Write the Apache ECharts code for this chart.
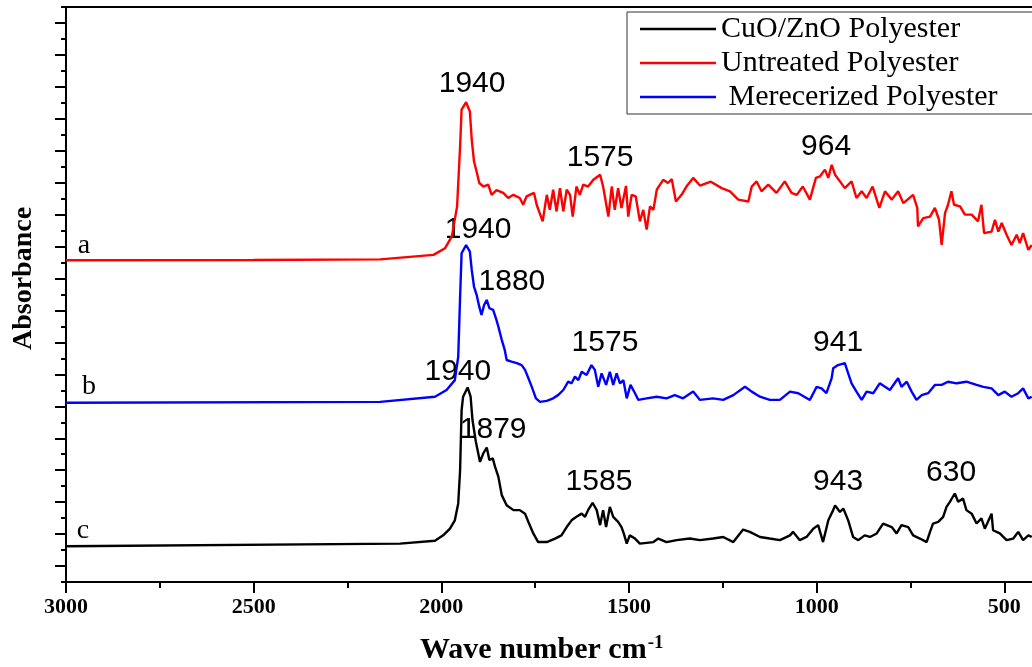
<!DOCTYPE html>
<html>
<head>
<meta charset="utf-8">
<script src="https://cdn.jsdelivr.net/npm/echarts@6/dist/echarts.min.js"></script>
<style>
html, body { margin: 0; padding: 0; background: #fff; }
#chart { width: 1032px; height: 667px; }
</style>
</head>
<body>
<div id="chart"></div>
<script>
// spectrum a - untreated polyester (wave number, absorbance)
var redWn = [3000, 2500, 2163, 2021, 1990, 1972, 1958, 1950, 1946, 1934, 1924, 1919, 1913, 1904, 1899, 1888, 1875, 1866, 1853, 1835,
  1822, 1808, 1791, 1782, 1773, 1753, 1746, 1730, 1719, 1711, 1702, 1693, 1684, 1675, 1666, 1657, 1650, 1640, 1631, 1622,
  1609, 1595, 1577, 1569, 1555, 1546, 1538, 1529, 1520, 1508, 1502, 1493, 1482, 1471, 1462, 1453, 1444, 1435, 1426, 1409,
  1396, 1386, 1375, 1360, 1347, 1329, 1311, 1282, 1253, 1231, 1209, 1182, 1173, 1160, 1147, 1129, 1107, 1085, 1067, 1053,
  1037, 1018, 1002, 991, 978, 969, 960, 951, 938, 925, 907, 894, 880, 867, 851, 833, 818, 800, 783, 769,
  743, 732, 730, 716, 698, 685, 674, 667, 658, 650, 641, 634, 618, 605, 587, 570, 561, 554, 534, 525,
  516, 507, 494, 481, 467, 459, 450, 436, 427]
var redAbs = [10.07, 10.08, 10.1, 10.24, 10.45, 10.82, 11.76, 13.64, 14.79, 15.02, 14.73, 13.85, 13.17, 12.75, 12.49, 12.38, 12.44, 12.12, 12.27, 12.18,
  12.02, 12.12, 12.02, 11.81, 12.07, 12.18, 11.81, 11.29, 12.12, 11.65, 12.28, 11.6, 12.33, 11.6, 12.28, 12.12, 11.44, 12.38, 12.12, 12.44,
  12.38, 12.59, 12.75, 12.38, 11.44, 12.38, 11.65, 12.33, 11.71, 12.4, 11.44, 12.12, 12.07, 11.29, 11.65, 11.03, 11.76, 11.65, 12.28, 12.59,
  12.49, 12.61, 11.91, 12.12, 12.38, 12.65, 12.41, 12.53, 12.33, 12.23, 11.97, 11.91, 12.38, 12.54, 12.23, 12.44, 12.18, 12.54, 12.18, 12.12,
  12.38, 11.97, 12.65, 12.7, 12.91, 12.65, 13.06, 12.75, 12.54, 12.33, 12.54, 12.02, 12.23, 12.02, 12.38, 11.71, 12.23, 11.97, 12.23, 11.86,
  12.12, 11.71, 11.13, 11.39, 11.44, 11.71, 11.34, 10.55, 11.55, 11.81, 12.23, 11.81, 11.76, 11.5, 11.5, 11.29, 11.81, 10.92, 10.97, 11.34,
  10.97, 11.24, 10.87, 10.55, 10.87, 10.61, 10.92, 10.4, 10.55]

// spectrum b - merecerized polyester
var blueWn = [3000, 2163, 2017, 1986, 1964, 1955, 1950, 1946, 1934, 1924, 1919, 1913, 1906, 1899, 1893, 1886, 1879, 1872, 1862, 1853,
  1848, 1839, 1831, 1826, 1813, 1799, 1786, 1777, 1768, 1759, 1748, 1737, 1719, 1702, 1689, 1675, 1662, 1653, 1644, 1635,
  1626, 1613, 1600, 1591, 1582, 1573, 1561, 1551, 1542, 1533, 1524, 1515, 1506, 1496, 1484, 1475, 1453, 1426, 1400, 1378,
  1356, 1329, 1311, 1276, 1249, 1222, 1191, 1173, 1151, 1125, 1098, 1071, 1049, 1018, 1000, 987, 974, 960, 956, 943,
  925, 916, 907, 894, 880, 867, 849, 832, 818, 805, 783, 774, 760, 747, 734, 720, 703, 685, 667, 650,
  627, 601, 574, 556, 534, 516, 499, 481, 463, 450, 436, 427]
var blueAbs = [5.61, 5.64, 5.8, 6.01, 6.32, 7.05, 8.93, 10.29, 10.55, 10.34, 9.77, 9.25, 8.99, 8.62, 8.36, 8.67, 8.83, 8.57, 8.52, 8.2,
  7.99, 7.58, 7.26, 6.95, 6.9, 6.85, 6.79, 6.64, 6.38, 6.11, 5.75, 5.64, 5.67, 5.75, 5.85, 6.01, 6.27, 6.22, 6.43, 6.32,
  6.58, 6.48, 6.79, 6.64, 6.11, 6.53, 6.17, 6.58, 6.17, 6.53, 6.22, 6.32, 5.75, 6.17, 5.91, 5.7, 5.75, 5.8, 5.75, 5.85,
  5.75, 5.96, 5.7, 5.75, 5.7, 5.85, 6.11, 5.96, 5.8, 5.7, 5.7, 5.96, 5.91, 5.7, 6.11, 6.06, 5.91, 6.38, 6.69, 6.79,
  6.85, 6.53, 6.22, 5.96, 5.7, 5.96, 5.91, 6.22, 6.11, 6.01, 6.38, 6.11, 6.27, 5.96, 5.7, 5.85, 5.91, 6.17, 6.17, 6.27,
  6.22, 6.27, 6.17, 6.11, 6.06, 5.85, 5.96, 5.8, 5.91, 6.06, 5.75, 5.8]

// spectrum c - CuO/ZnO polyester
var blackWn = [3000, 2110, 2017, 1995, 1977, 1964, 1955, 1950, 1946, 1942, 1930, 1922, 1917, 1908, 1897, 1888, 1879, 1872, 1863, 1857,
  1848, 1839, 1826, 1808, 1791, 1777, 1768, 1755, 1742, 1719, 1697, 1680, 1666, 1653, 1640, 1626, 1617, 1609, 1597, 1586,
  1577, 1569, 1561, 1551, 1542, 1529, 1520, 1514, 1506, 1498, 1484, 1471, 1435, 1422, 1400, 1373, 1338, 1311, 1276, 1249,
  1222, 1196, 1178, 1151, 1125, 1098, 1071, 1063, 1045, 1027, 1009, 996, 983, 969, 956, 951, 938, 929, 916, 903,
  889, 872, 858, 840, 823, 800, 787, 774, 756, 743, 725, 707, 698, 690, 676, 663, 654, 645, 632, 623,
  610, 601, 587, 574, 561, 552, 534, 530, 512, 494, 476, 463, 450, 436, 427]
var blackAbs = [1.12, 1.2, 1.29, 1.46, 1.67, 1.93, 2.46, 3.5, 5.38, 5.8, 6.09, 5.8, 5.07, 4.39, 3.76, 4.03, 4.21, 3.82, 3.87, 3.61,
  3.29, 2.72, 2.4, 2.25, 2.25, 2.14, 1.88, 1.52, 1.25, 1.25, 1.36, 1.46, 1.72, 1.93, 2.04, 2.14, 2.04, 2.25, 2.48, 2.25,
  1.78, 2.25, 1.72, 2.35, 2.04, 1.88, 1.72, 1.52, 1.2, 1.46, 1.36, 1.2, 1.25, 1.36, 1.25, 1.31, 1.36, 1.31, 1.36, 1.41,
  1.25, 1.64, 1.57, 1.41, 1.36, 1.31, 1.46, 1.57, 1.31, 1.41, 1.67, 1.78, 1.25, 1.93, 2.25, 2.4, 2.19, 2.3, 1.93, 1.41,
  1.31, 1.46, 1.41, 1.52, 1.83, 1.72, 1.52, 1.78, 1.72, 1.46, 1.36, 1.25, 1.57, 1.83, 1.88, 2.04, 2.35, 2.51, 2.77, 2.51,
  2.61, 2.25, 2.14, 1.83, 1.99, 1.67, 2.14, 1.62, 1.52, 1.31, 1.36, 1.57, 1.31, 1.46, 1.41]

// peak labels: wave number, absorbance position, text
var peakWn = [1918, 1577, 975, 1902, 1812, 1564, 943, 1956, 1862, 1580, 943, 642]
var peakAbs = [15.6, 13.28, 13.63, 11.03, 9.39, 7.48, 7.48, 6.57, 4.76, 3.13, 3.13, 3.41]
var peakText = ['1940', '1575', '964', '1940', '1880', '1575', '941', '1940', '1879', '1585', '943', '630']

// curve letters
var curveWn = [2952, 2939, 2955]
var curveAbs = [10.52, 6.1, 1.62]
var curveText = ['a', 'b', 'c']

var xTicks = [3000, 2500, 2000, 1500, 1000, 500]

function pairs(xs, ys) {
  return xs.map(function (x, i) { return [x, ys[i]] })
}
function labeled(xs, ys, ts) {
  return xs.map(function (x, i) { return [x, ys[i], ts[i]] })
}

var serif = '"Liberation Serif", "Times New Roman", serif'

var myChart = echarts.init(document.getElementById('chart'))

var option = {
  animation: false,
  backgroundColor: '#fff',
  title: {
    text: '{t|Wave number cm}{s|-1}',
    left: 420,
    top: 634,
    padding: 0,
    textStyle: {
      rich: {
        t: { fontFamily: serif, fontWeight: 'bold', fontSize: 30, color: '#000' },
        s: { fontFamily: serif, fontWeight: 'bold', fontSize: 19, color: '#000', padding: [0, 0, 14, 1] }
      }
    }
  },
  legend: {
    data: ['CuO/ZnO Polyester', 'Untreated Polyester', ' Merecerized Polyester'],
    orient: 'vertical',
    left: 627,
    top: 12,
    icon: 'rect',
    itemWidth: 76,
    itemHeight: 2.5,
    itemGap: 0,
    padding: [0, 40, 0, 13],
    borderColor: '#333',
    borderWidth: 1,
    backgroundColor: '#fff',
    textStyle: { fontFamily: serif, fontSize: 30, color: '#000', lineHeight: 34 }
  },
  // the plot runs on past the right edge of the picture, down to 0 cm-1
  grid: {
    left: 66,
    top: 7,
    width: 1126,
    height: 575,
    outerBoundsMode: 'none',
    containLabel: false,
    show: true,
    borderColor: '#000',
    borderWidth: 2
  },
  xAxis: {
    type: 'value',
    inverse: true,
    min: 0,
    max: 3000,
    interval: 500,
    axisLine: { onZero: false, lineStyle: { color: '#000', width: 2 } },
    axisTick: { length: 11, lineStyle: { color: '#000', width: 2 } },
    minorTick: { show: true, splitNumber: 2, length: 6, lineStyle: { color: '#000', width: 2 } },
    splitLine: { show: false },
    axisLabel: {
      margin: 14,
      fontFamily: serif,
      fontWeight: 'bold',
      fontSize: 22,
      color: '#000',
      formatter: function (v) { return xTicks.indexOf(v) >= 0 ? String(v) : '' }
    }
  },
  yAxis: {
    type: 'value',
    position: 'left',
    min: 0,
    max: 18,
    interval: 1,
    name: 'Absorbance',
    nameLocation: 'middle',
    nameRotate: 90,
    nameGap: 28,
    nameTextStyle: { fontFamily: serif, fontWeight: 'bold', fontSize: 28, color: '#000', padding: [0, 0, 0, 32] },
    axisLine: { show: true, onZero: false, lineStyle: { color: '#000', width: 2 } },
    axisTick: { show: true, length: 5, lineStyle: { color: '#000', width: 2 } },
    minorTick: { show: true, splitNumber: 2, length: 11, lineStyle: { color: '#000', width: 2 } },
    splitLine: { show: false },
    axisLabel: { show: false }
  },
  series: [
    {
      name: 'CuO/ZnO Polyester',
      type: 'line',
      color: '#000000',
      data: pairs(blackWn, blackAbs),
      showSymbol: false,
      symbol: 'none',
      lineStyle: { width: 2.4 }
    },
    {
      name: 'Untreated Polyester',
      type: 'line',
      color: '#ff0000',
      data: pairs(redWn, redAbs),
      showSymbol: false,
      symbol: 'none',
      lineStyle: { width: 2.4 }
    },
    {
      name: ' Merecerized Polyester',
      type: 'line',
      color: '#0000ff',
      data: pairs(blueWn, blueAbs),
      showSymbol: false,
      symbol: 'none',
      lineStyle: { width: 2.4 }
    },
    {
      name: 'peaks',
      type: 'scatter',
      symbolSize: 0,
      silent: true,
      itemStyle: { opacity: 1 },
      data: labeled(peakWn, peakAbs, peakText),
      label: {
        show: true,
        position: 'inside',
        formatter: function (p) { return p.data[2] },
        fontFamily: '"Liberation Sans", Arial, sans-serif',
        fontSize: 30,
        color: '#000'
      }
    },
    {
      name: 'letters',
      type: 'scatter',
      symbolSize: 0,
      silent: true,
      itemStyle: { opacity: 1 },
      data: labeled(curveWn, curveAbs, curveText),
      label: {
        show: true,
        position: 'inside',
        formatter: function (p) { return p.data[2] },
        fontFamily: serif,
        fontSize: 28,
        color: '#000'
      }
    }
  ]
}

myChart.setOption(option)
</script>
</body>
</html>
